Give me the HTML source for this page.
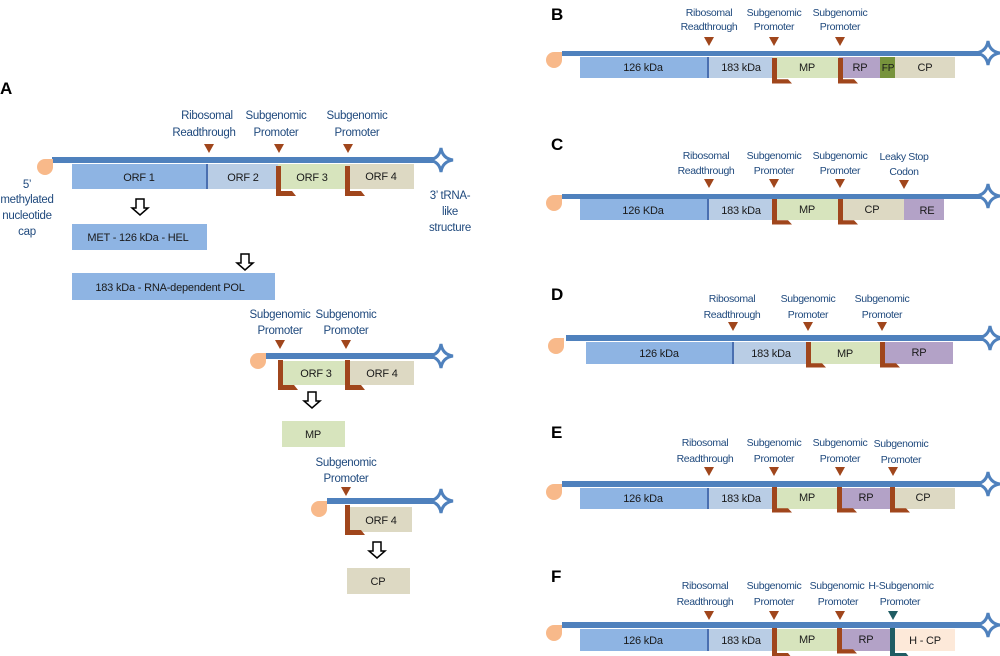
<!DOCTYPE html>
<html><head><meta charset="utf-8"><style>
html,body{margin:0;padding:0;background:#fff;}
svg{display:block;}
.l{font-family:"Liberation Sans",sans-serif;font-size:10.5px;letter-spacing:-0.35px;fill:#1f497d;text-anchor:middle;}
.la{font-size:11.5px;letter-spacing:-0.3px;}
.b{font-family:"Liberation Sans",sans-serif;font-size:11px;letter-spacing:-0.2px;fill:#1a1a1a;text-anchor:middle;}
.p{font-family:"Liberation Sans",sans-serif;font-size:17px;font-weight:bold;fill:#000;}
</style></head><body>
<svg width="1000" height="656" viewBox="0 0 1000 656" xmlns="http://www.w3.org/2000/svg">
<defs>
<path id="st" d="M0,-12 Q1.5,-1.5 12,0 Q1.5,1.5 0,12 Q-1.5,1.5 -12,0 Q-1.5,-1.5 0,-12Z" fill="#fff" stroke="#4f81bd" stroke-width="3"/>
<path id="tri" d="M-5,0 L5,0 L0,9Z" fill="#a0461c"/>
<path id="tri2" d="M-5,0 L5,0 L0,9Z" fill="#1f5c63"/>
<path id="pr" d="M0,0 L5,0 L5,25 L16,25 L20,30 L0,30Z" fill="#a0461c"/>
<path id="pr2" d="M0,0 L5,0 L5,25 L16,25 L20,30 L0,30Z" fill="#1f5c63"/>
<path id="cap" d="M0,-8 A8,8 0 1 0 8,0 L8,-8Z" fill="#f8b98a"/>
</defs>

<!-- Panel A -->
<text class="p" x="0" y="94">A</text>
<text class="l la" x="207" y="119">Ribosomal</text><text class="l la" x="204" y="136">Readthrough</text>
<text class="l la" x="276" y="119">Subgenomic</text><text class="l la" x="276" y="136">Promoter</text>
<text class="l la" x="357" y="119">Subgenomic</text><text class="l la" x="357" y="136">Promoter</text>
<use href="#tri" x="209" y="144"/><use href="#tri" x="279" y="144"/><use href="#tri" x="348" y="144"/>
<rect x="72" y="164" width="134" height="25" fill="#8eb4e3"/>
<rect x="206" y="164" width="2" height="25" fill="#4a6fb0"/>
<rect x="208" y="164" width="70" height="25" fill="#b9cde5"/>
<rect x="278" y="164" width="68" height="25" fill="#d7e4bd"/>
<rect x="346" y="164" width="68" height="25" fill="#ddd9c3"/>
<rect x="52" y="157" width="384" height="6" fill="#4f81bd"/>
<use href="#st" x="441" y="160"/>
<use href="#cap" x="45" y="167"/>
<use href="#pr" x="276" y="166"/><use href="#pr" x="345" y="166"/>
<text class="b" x="139" y="181">ORF 1</text><text class="b" x="243" y="181">ORF 2</text>
<text class="b" x="312" y="181">ORF 3</text><text class="b" x="381" y="180">ORF 4</text>
<text class="l la" x="27" y="188">5’</text><text class="l la" x="27" y="203">methylated</text><text class="l la" x="27" y="219">nucleotide</text><text class="l la" x="27" y="235">cap</text>
<text class="l la" x="450" y="199">3’ tRNA-</text><text class="l la" x="450" y="215">like</text><text class="l la" x="450" y="231">structure</text>
<path d="M136,199 h8 v9 h4 l-8,7 l-8,-7 h4z" fill="#fff" stroke="#000" stroke-width="1.5"/>
<rect x="72" y="224" width="135" height="26" fill="#8eb4e3"/>
<text class="b" x="138" y="241">MET  -  126 kDa  -  HEL</text>
<path d="M241,254 h8 v9 h4 l-8,7 l-8,-7 h4z" fill="#fff" stroke="#000" stroke-width="1.5"/>
<rect x="72" y="273" width="203" height="27" fill="#8eb4e3"/>
<text class="b" x="170" y="291">183 kDa   -   RNA-dependent POL</text>

<text class="l la" x="280" y="318">Subgenomic</text><text class="l la" x="280" y="334">Promoter</text>
<text class="l la" x="346" y="318">Subgenomic</text><text class="l la" x="346" y="334">Promoter</text>
<use href="#tri" x="280" y="340"/><use href="#tri" x="346" y="340"/>
<rect x="282" y="361" width="63" height="24" fill="#d7e4bd"/>
<rect x="346" y="361" width="68" height="24" fill="#ddd9c3"/>
<rect x="265" y="353" width="170" height="6" fill="#4f81bd"/>
<use href="#st" x="441" y="356"/><use href="#cap" x="258" y="361"/>
<use href="#pr" x="278" y="360"/><use href="#pr" x="345" y="360"/>
<text class="b" x="316" y="377">ORF 3</text><text class="b" x="382" y="377">ORF 4</text>
<path d="M308,392 h8 v9 h4 l-8,7 l-8,-7 h4z" fill="#fff" stroke="#000" stroke-width="1.5"/>
<rect x="282" y="421" width="63" height="26" fill="#d7e4bd"/>
<text class="b" x="313" y="438">MP</text>
<text class="l la" x="346" y="466">Subgenomic</text><text class="l la" x="346" y="482">Promoter</text>
<use href="#tri" x="346" y="487"/>
<rect x="348" y="507" width="64" height="25" fill="#ddd9c3"/>
<rect x="327" y="498" width="108" height="6" fill="#4f81bd"/>
<use href="#st" x="441" y="501"/><use href="#cap" x="319" y="509"/>
<use href="#pr" x="345" y="505"/>
<text class="b" x="381" y="524">ORF 4</text>
<path d="M373,542 h8 v9 h4 l-8,7 l-8,-7 h4z" fill="#fff" stroke="#000" stroke-width="1.5"/>
<rect x="347" y="568" width="63" height="26" fill="#ddd9c3"/>
<text class="b" x="378" y="585">CP</text>

<!-- Panel B -->
<text class="p" x="551" y="20">B</text>
<text class="l" x="709" y="16">Ribosomal</text><text class="l" x="709" y="30">Readthrough</text>
<text class="l" x="774" y="16">Subgenomic</text><text class="l" x="774" y="30">Promoter</text>
<text class="l" x="840" y="16">Subgenomic</text><text class="l" x="840" y="30">Promoter</text>
<use href="#tri" x="709" y="37"/><use href="#tri" x="774" y="37"/><use href="#tri" x="840" y="37"/>
<rect x="580" y="57" width="127" height="21" fill="#8eb4e3"/><rect x="707" y="57" width="2" height="21" fill="#4a6fb0"/>
<rect x="709" y="57" width="64" height="21" fill="#b9cde5"/>
<rect x="773" y="57" width="66" height="21" fill="#d7e4bd"/>
<rect x="839" y="57" width="41" height="21" fill="#b3a2c7"/>
<rect x="880" y="57" width="15" height="21" fill="#77933c"/>
<rect x="895" y="57" width="60" height="21" fill="#ddd9c3"/>
<rect x="562" y="51" width="420" height="5" fill="#4f81bd"/>
<use href="#st" x="988" y="53"/><use href="#cap" x="554" y="60"/>
<use href="#pr" x="772" y="58" transform="translate(772,58) scale(1,0.85) translate(-772,-58)"/>
<use href="#pr" x="838" y="58" transform="translate(838,58) scale(1,0.85) translate(-838,-58)"/>
<text class="b" x="643" y="71">126 kDa</text><text class="b" x="741" y="71">183 kDa</text>
<text class="b" x="807" y="71">MP</text><text class="b" x="860" y="71">RP</text>
<text class="b" x="888" y="71" style="font-size:10px">FP</text><text class="b" x="925" y="71">CP</text>

<!-- Panel C -->
<text class="p" x="551" y="150">C</text>
<text class="l" x="706" y="159">Ribosomal</text><text class="l" x="706" y="174">Readthrough</text>
<text class="l" x="774" y="159">Subgenomic</text><text class="l" x="774" y="174">Promoter</text>
<text class="l" x="840" y="159">Subgenomic</text><text class="l" x="840" y="174">Promoter</text>
<text class="l" x="904" y="160">Leaky Stop</text><text class="l" x="904" y="175">Codon</text>
<use href="#tri" x="709" y="179"/><use href="#tri" x="774" y="179"/><use href="#tri" x="840" y="179"/><use href="#tri" x="904" y="180"/>
<rect x="580" y="199" width="127" height="21" fill="#8eb4e3"/><rect x="707" y="199" width="2" height="21" fill="#4a6fb0"/>
<rect x="709" y="199" width="64" height="21" fill="#b9cde5"/>
<rect x="773" y="199" width="66" height="21" fill="#d7e4bd"/>
<rect x="839" y="199" width="65" height="21" fill="#ddd9c3"/>
<rect x="904" y="199" width="40" height="21" fill="#b3a2c7"/>
<rect x="562" y="194" width="420" height="5" fill="#4f81bd"/>
<use href="#st" x="988" y="196"/><use href="#cap" x="554" y="203"/>
<use href="#pr" x="772" y="199" transform="translate(772,199) scale(1,0.85) translate(-772,-199)"/>
<use href="#pr" x="838" y="199" transform="translate(838,199) scale(1,0.85) translate(-838,-199)"/>
<text class="b" x="643" y="214">126 KDa</text><text class="b" x="741" y="214">183 kDa</text>
<text class="b" x="807" y="213">MP</text><text class="b" x="872" y="213">CP</text><text class="b" x="927" y="214">RE</text>

<!-- Panel D -->
<text class="p" x="551" y="300">D</text>
<text class="l" x="732" y="302">Ribosomal</text><text class="l" x="732" y="318">Readthrough</text>
<text class="l" x="808" y="302">Subgenomic</text><text class="l" x="808" y="318">Promoter</text>
<text class="l" x="882" y="302">Subgenomic</text><text class="l" x="882" y="318">Promoter</text>
<use href="#tri" x="733" y="322"/><use href="#tri" x="808" y="322"/><use href="#tri" x="882" y="322"/>
<rect x="586" y="342" width="146" height="22" fill="#8eb4e3"/><rect x="732" y="342" width="2" height="22" fill="#4a6fb0"/>
<rect x="734" y="342" width="72" height="22" fill="#b9cde5"/>
<rect x="806" y="342" width="74" height="22" fill="#d7e4bd"/>
<rect x="880" y="342" width="73" height="22" fill="#b3a2c7"/>
<rect x="566" y="335" width="418" height="6" fill="#4f81bd"/>
<use href="#st" x="990" y="338"/><use href="#cap" x="556" y="346"/>
<use href="#pr" x="806" y="342" transform="translate(806,342) scale(1,0.85) translate(-806,-342)"/>
<use href="#pr" x="880" y="342" transform="translate(880,342) scale(1,0.85) translate(-880,-342)"/>
<text class="b" x="659" y="357">126 kDa</text><text class="b" x="771" y="357">183 kDa</text>
<text class="b" x="845" y="357">MP</text><text class="b" x="919" y="356">RP</text>

<!-- Panel E -->
<text class="p" x="551" y="438">E</text>
<text class="l" x="705" y="446">Ribosomal</text><text class="l" x="705" y="462">Readthrough</text>
<text class="l" x="774" y="446">Subgenomic</text><text class="l" x="774" y="462">Promoter</text>
<text class="l" x="840" y="446">Subgenomic</text><text class="l" x="840" y="462">Promoter</text>
<text class="l" x="901" y="447">Subgenomic</text><text class="l" x="901" y="463">Promoter</text>
<use href="#tri" x="709" y="467"/><use href="#tri" x="774" y="467"/><use href="#tri" x="840" y="467"/><use href="#tri" x="893" y="467"/>
<rect x="580" y="488" width="127" height="21" fill="#8eb4e3"/><rect x="707" y="488" width="2" height="21" fill="#4a6fb0"/>
<rect x="709" y="488" width="64" height="21" fill="#b9cde5"/>
<rect x="773" y="488" width="65" height="21" fill="#d7e4bd"/>
<rect x="838" y="488" width="53" height="21" fill="#b3a2c7"/>
<rect x="891" y="488" width="64" height="21" fill="#ddd9c3"/>
<rect x="562" y="481" width="420" height="6" fill="#4f81bd"/>
<use href="#st" x="988" y="484"/><use href="#cap" x="554" y="492"/>
<use href="#pr" x="772" y="487" transform="translate(772,487) scale(1,0.85) translate(-772,-487)"/>
<use href="#pr" x="837" y="487" transform="translate(837,487) scale(1,0.85) translate(-837,-487)"/>
<use href="#pr" x="890" y="487" transform="translate(890,487) scale(1,0.85) translate(-890,-487)"/>
<text class="b" x="643" y="502">126 kDa</text><text class="b" x="741" y="502">183 kDa</text>
<text class="b" x="807" y="501">MP</text><text class="b" x="866" y="501">RP</text><text class="b" x="923" y="501">CP</text>

<!-- Panel F -->
<text class="p" x="551" y="582">F</text>
<text class="l" x="705" y="589">Ribosomal</text><text class="l" x="705" y="605">Readthrough</text>
<text class="l" x="774" y="589">Subgenomic</text><text class="l" x="774" y="605">Promoter</text>
<text class="l" x="837" y="589">Subgenomic</text><text class="l" x="838" y="605">Promoter</text>
<text class="l" x="901" y="589">H-Subgenomic</text><text class="l" x="900" y="605">Promoter</text>
<use href="#tri" x="709" y="611"/><use href="#tri" x="774" y="611"/><use href="#tri" x="840" y="611"/><use href="#tri2" x="893" y="611"/>
<rect x="580" y="629" width="127" height="22" fill="#8eb4e3"/><rect x="707" y="629" width="2" height="22" fill="#4a6fb0"/>
<rect x="709" y="629" width="64" height="22" fill="#b9cde5"/>
<rect x="773" y="629" width="65" height="22" fill="#d7e4bd"/>
<rect x="838" y="629" width="52" height="22" fill="#b3a2c7"/>
<rect x="890" y="629" width="65" height="22" fill="#fde9d9"/>
<rect x="562" y="622" width="420" height="6" fill="#4f81bd"/>
<use href="#st" x="988" y="625"/><use href="#cap" x="554" y="633"/>
<use href="#pr" x="772" y="628"/>
<use href="#pr" x="837" y="628" transform="translate(837,628) scale(1,0.85) translate(-837,-628)"/>
<use href="#pr2" x="890" y="628"/>
<text class="b" x="643" y="644">126 kDa</text><text class="b" x="741" y="644">183 kDa</text>
<text class="b" x="807" y="643">MP</text><text class="b" x="866" y="643">RP</text><text class="b" x="925" y="644">H - CP</text>
</svg>
</body></html>
